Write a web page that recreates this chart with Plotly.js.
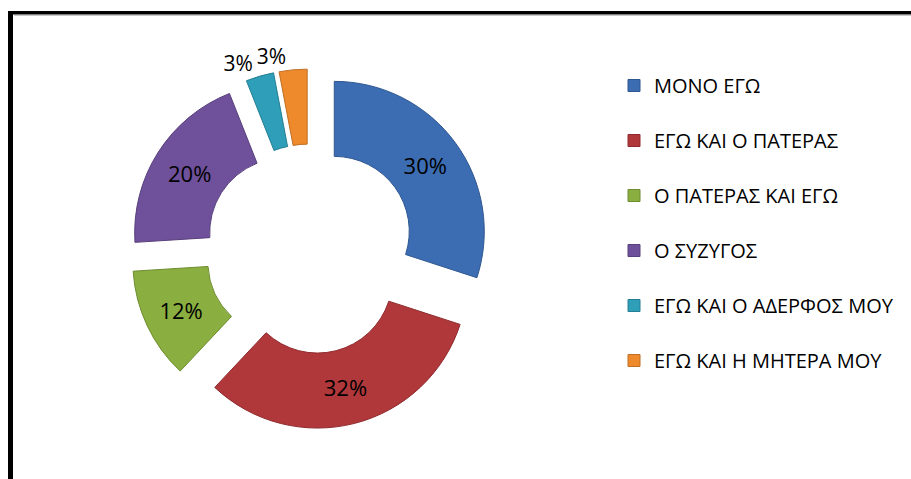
<!DOCTYPE html>
<html>
<head>
<meta charset="utf-8">
<script src="https://cdn.plot.ly/plotly-3.0.1.min.js"></script>
<style>html,body{margin:0;padding:0;background:#fff;}#chart{width:911px;height:479px;}</style>
</head>
<body>
<div id="chart"></div>
<script>
var categories = ["ΜΟΝΟ ΕΓΩ", "ΕΓΩ ΚΑΙ Ο ΠΑΤΕΡΑΣ", "Ο ΠΑΤΕΡΑΣ ΚΑΙ ΕΓΩ", "Ο ΣΥΖΥΓΟΣ", "ΕΓΩ ΚΑΙ Ο ΑΔΕΡΦΟΣ ΜΟΥ", "ΕΓΩ ΚΑΙ Η ΜΗΤΕΡΑ ΜΟΥ"];
var values = [30, 32, 12, 20, 3, 3];
var colors = ["#3C6DB3", "#B0373A", "#8AAE3F", "#6F509A", "#2F9EB9", "#EE8A2C"];
var edgeColors = ["#2E5690", "#8E2A2D", "#6E8C30", "#58407C", "#247E94", "#C06E22"];

var W = 911, H = 479;
var font = "Open Sans, Noto Sans, sans-serif";
var domain = { x: [130 / W, 490 / W], y: [(H - 429) / H, (H - 69) / H] };

// main donut: slices + inside labels, cyan outside label
var trace = {
  type: "pie",
  labels: categories.map(function (c) { return c + "<br> "; }),
  values: values,
  sort: false,
  direction: "clockwise",
  rotation: 0,
  hole: 0.5,
  pull: 0.2,
  marker: { colors: colors, line: { color: edgeColors, width: 1 } },
  texttemplate: ["%{percent:.0%}", "%{percent:.0%}", "%{percent:.0%}", "%{percent:.0%}", "%{percent:.0%}", ""],
  textposition: ["inside", "inside", "inside", "inside", "outside", "none"],
  insidetextorientation: "horizontal",
  textfont: { family: font, size: 22, color: "#000" },
  outsidetextfont: { family: font, size: 21, color: "#000" },
  hoverinfo: "none",
  domain: domain
};

// transparent twin carrying the last slice's outside label (avoids label scooting)
var labelTrace = {
  type: "pie",
  labels: categories,
  values: values,
  sort: false,
  direction: "clockwise",
  rotation: 0,
  hole: 0.5,
  pull: 0.2,
  showlegend: false,
  marker: { colors: categories.map(function () { return "rgba(0,0,0,0)"; }), line: { width: 0 } },
  texttemplate: ["", "", "", "", "", "%{percent:.0%}"],
  textposition: ["none", "none", "none", "none", "none", "outside"],
  outsidetextfont: { family: font, size: 21, color: "#000" },
  hoverinfo: "none",
  domain: domain
};

var layout = {
  width: W, height: H,
  margin: { l: 0, r: 0, t: 0, b: 0 },
  paper_bgcolor: "#fff",
  showlegend: true,
  legend: {
    x: 614 / W, xanchor: "left",
    y: 1 - 66 / H, yanchor: "top",
    valign: "top",
    font: { family: font, size: 20, color: "#000" },
    itemwidth: 30,
    bgcolor: "rgba(0,0,0,0)"
  },
  shapes: [
    { type: "line", xref: "paper", yref: "paper", x0: 14 / W, x1: 1.05, y0: 1 - 15.5 / H, y1: 1 - 15.5 / H, line: { color: "#c8c8c8", width: 1 } },
    { type: "line", xref: "paper", yref: "paper", x0: 10.5 / W, x1: 10.5 / W, y0: -0.05, y1: 1 - 11 / H, line: { color: "#000", width: 5 } },
    { type: "line", xref: "paper", yref: "paper", x0: 8 / W, x1: 1.05, y0: 1 - 12.7 / H, y1: 1 - 12.7 / H, line: { color: "#000", width: 3.5 } }
  ]
};

Plotly.newPlot("chart", [trace, labelTrace], layout, { displayModeBar: false, staticPlot: true });
</script>
</body>
</html>
